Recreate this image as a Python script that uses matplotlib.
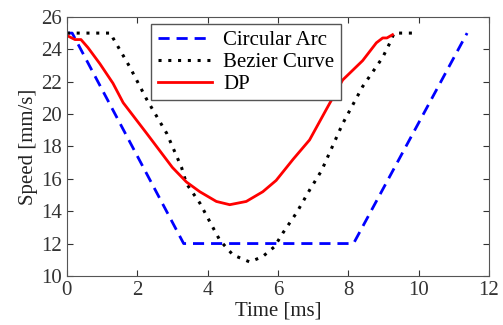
import matplotlib
matplotlib.use("Agg")
import matplotlib.pyplot as plt

plt.rcParams['font.family'] = 'Liberation Serif'
plt.rcParams['mathtext.fontset'] = 'stix'

# Circular arc profile
arc_t = [0.0, 0.15, 3.32, 8.15, 11.38]
arc_v = [25.0, 25.0, 12.0, 12.0, 25.0]

# Bezier curve profile
bez_t = [0.0, 1.25, 1.31, 1.79, 2.27, 2.84, 3.26, 3.4, 3.78, 4.15, 4.35, 4.72, 5.2,
         5.57, 5.9, 6.14, 6.53, 6.9, 7.24, 7.84, 8.41, 8.98, 9.23, 9.3, 9.85]
bez_v = [25.0, 25.0, 24.7, 22.9, 20.9, 18.8, 16.7, 15.7, 14.5, 13.0, 12.2, 11.3, 10.86,
         11.2, 11.8, 12.65, 13.9, 15.3, 16.5, 19.4, 21.7, 23.5, 24.6, 25.0, 25.0]

# DP profile
dp_t = [0.0, 0.23, 0.4, 0.6, 0.94, 1.31, 1.6, 2.27, 3.0, 3.4, 3.78, 4.25, 4.63, 5.1,
        5.57, 5.95, 6.43, 6.9, 7.38, 7.84, 8.41, 8.8, 8.98, 9.1, 9.26]
dp_v = [24.85, 24.6, 24.6, 24.1, 23.1, 21.9, 20.7, 18.8, 16.7, 15.8, 15.2, 14.6, 14.4, 14.6,
        15.2, 15.9, 17.2, 18.4, 20.3, 22.1, 23.3, 24.4, 24.7, 24.7, 24.9]

fig = plt.figure(figsize=(5.03, 3.25), dpi=100)
ax = fig.add_axes([0.133, 0.151, 0.839, 0.797])

ax.plot(arc_t, arc_v, color='#0000ff', linestyle=(0, (4, 2.5)), linewidth=2, label='Circular Arc')
ax.plot(bez_t, bez_v, color='black', linestyle=(0, (1, 2.2)), linewidth=2.2, label='Bezier Curve')
ax.plot(dp_t, dp_v, color='#ff0000', linewidth=2, label='DP')

ax.set_xlim(0, 12)
ax.set_ylim(10, 26)
ax.set_xticks(range(0, 13, 2))
ax.set_yticks(range(10, 27, 2))
ax.tick_params(direction='in', top=True, right=True, labelsize=15, colors='#333333',
               length=4, width=0.8)
for s in ax.spines.values():
    s.set_color('#555555')
ax.set_xlabel('Time [ms]', fontsize=15, color='#222222', labelpad=1)
ax.set_ylabel('Speed [mm/s]', fontsize=15, color='#222222', labelpad=2)

leg = ax.legend(loc='upper left', bbox_to_anchor=(0.2, 0.972), fontsize=15,
                fancybox=False, framealpha=1, edgecolor='#555555',
                handlelength=2.6, handletextpad=0.55, borderpad=0.3, labelspacing=0.12,
                borderaxespad=0)
leg.get_frame().set_linewidth(1)

fig.savefig('out.png', dpi=100)
